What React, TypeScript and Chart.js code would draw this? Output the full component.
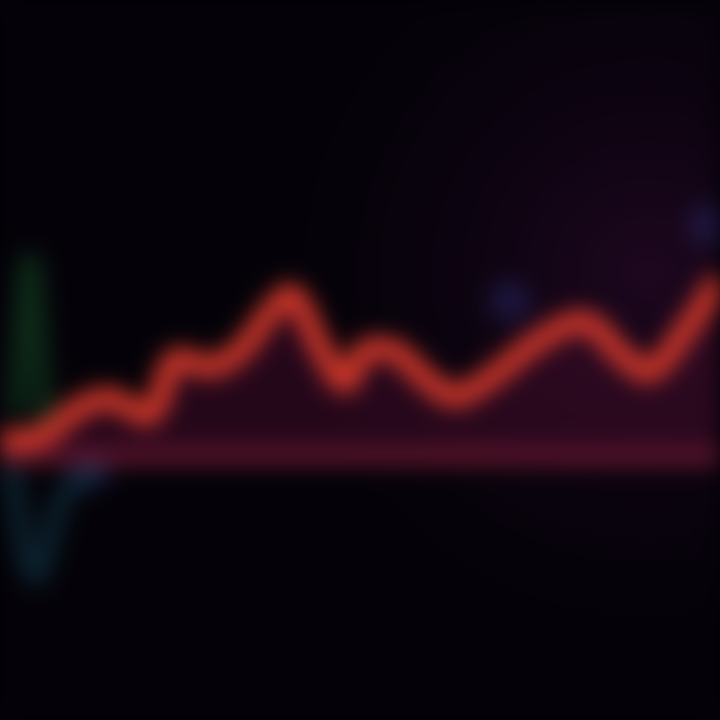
import React, { useEffect, useRef } from "react";
import { Chart, registerables } from "chart.js";

Chart.register(...registerables);

// x positions (time index) and values of the main red series
const mainX = [0, 4, 8, 11, 15, 17.5, 21, 24, 27, 29.2, 32, 34.5, 36.5, 39.5, 42.5, 45.5, 49, 54, 58.5, 62.5, 65, 68.5, 72];
const mainY = [2, 3, 9.5, 11.5, 8, 20, 18.5, 22, 30.5, 34.5, 23, 15, 22, 22, 16, 12, 16, 24.5, 28.5, 20.5, 17.5, 26.5, 38];

// flat baseline band
const baseX = [0, 72];
const baseY = [-1, -1];

// faint green spike at the left
const greenX = [1.5, 3, 4.5];
const greenY = [8, 42, 6];

// faint teal dip below the baseline
const tealX = [1, 3.5, 6.5, 10];
const tealY = [-3, -28, -10, -3];

// soft blue markers
const blueX = [71, 51, 9];
const blueY = [50, 33, -4];

const pts = (xs: number[], ys: number[]) => xs.map((x, i) => ({ x, y: ys[i] }));

export default function App() {
  const ref = useRef<HTMLCanvasElement>(null);
  useEffect(() => {
    document.body.style.margin = "0";
    const bg = {
      id: "bg",
      beforeDraw(chart: any) {
        const { ctx, width, height } = chart;
        ctx.save();
        ctx.fillStyle = "#040208";
        ctx.fillRect(0, 0, width, height);
        const g = ctx.createRadialGradient(width * 0.9, height * 0.38, 10, width * 0.9, height * 0.38, width * 0.5);
        g.addColorStop(0, "rgba(45,10,45,0.6)");
        g.addColorStop(1, "rgba(20,4,25,0)");
        ctx.fillStyle = g;
        ctx.fillRect(0, 0, width, height);
        ctx.restore();
      },
    };
    const chart = new Chart(ref.current!, {
      type: "line",
      data: {
        datasets: [
          {
            data: pts(blueX, blueY),
            showLine: false,
            pointRadius: 22,
            pointBackgroundColor: "rgba(55,60,150,0.3)",
            pointBorderWidth: 0,
            order: 5,
          },
          {
            data: pts(greenX, greenY),
            borderColor: "rgba(25,90,45,0.45)",
            borderWidth: 18,
            pointRadius: 0,
            tension: 0.4,
            order: 4,
          },
          {
            data: pts(tealX, tealY),
            borderColor: "rgba(20,70,90,0.45)",
            borderWidth: 20,
            pointRadius: 0,
            tension: 0.4,
            order: 4,
          },
          {
            data: pts(baseX, baseY),
            borderColor: "rgba(110,26,48,0.85)",
            borderWidth: 22,
            pointRadius: 0,
            order: 3,
          },
          {
            data: pts(mainX, mainY),
            borderColor: "#d0372a",
            borderWidth: 22,
            pointRadius: 0,
            tension: 0.35,
            fill: { value: -1 },
            backgroundColor: "rgba(60,12,38,0.6)",
            order: 1,
          },
        ],
      },
      options: {
        animation: false,
        responsive: false,
        layout: { padding: 0, autoPadding: false },
        plugins: { legend: { display: false }, tooltip: { enabled: false } },
        scales: {
          x: { type: "linear", min: 0, max: 72, display: false },
          y: { type: "linear", min: -60, max: 100, display: false },
        },
      },
      plugins: [bg],
    });
    return () => chart.destroy();
  }, []);
  return (
    <div style={{ position: "fixed", left: 0, top: 0, width: 720, height: 720, background: "#040208", overflow: "hidden" }}>
      <canvas ref={ref} width={720} height={720} style={{ width: 720, height: 720, filter: "blur(11px)" }} />
    </div>
  );
}
